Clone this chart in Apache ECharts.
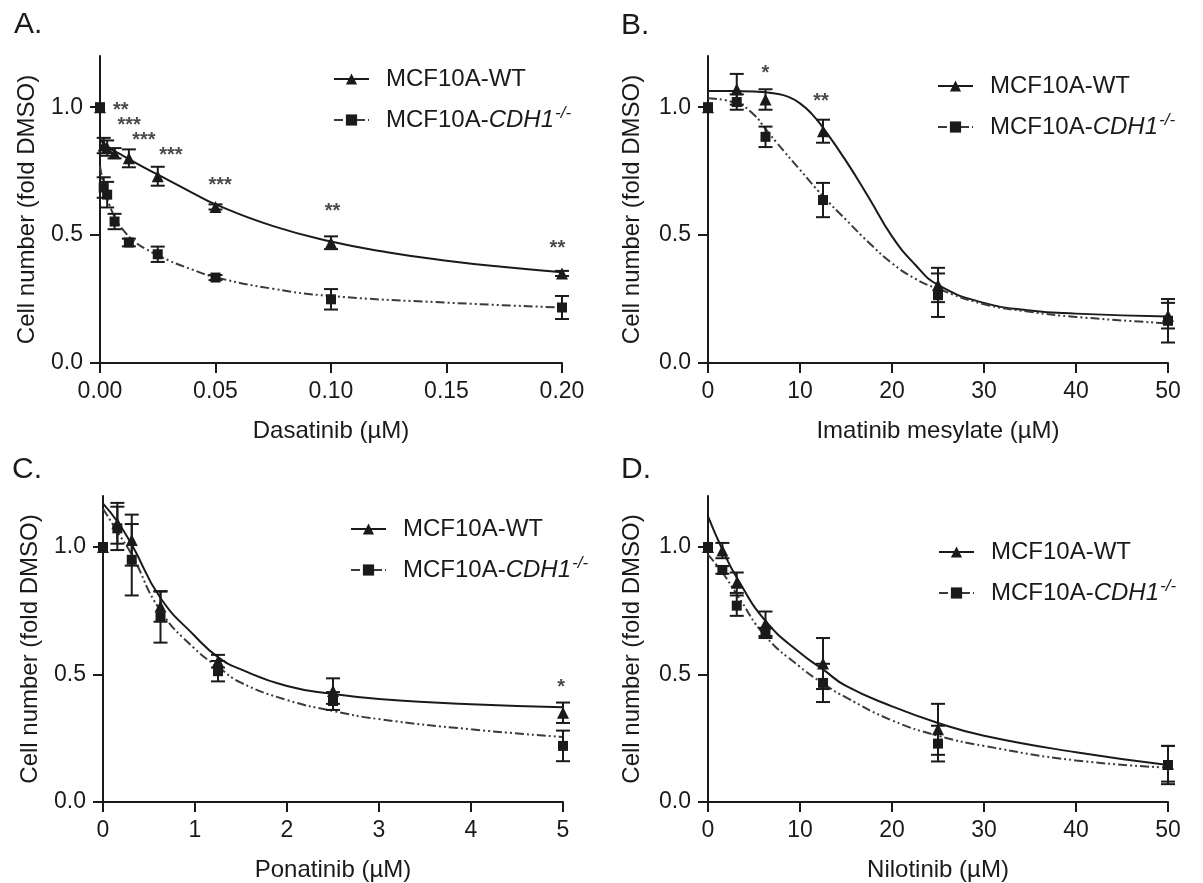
<!DOCTYPE html>
<html><head><meta charset="utf-8">
<script src="https://cdn.jsdelivr.net/npm/echarts@6/dist/echarts.min.js"></script>
<style>html,body{margin:0;padding:0;background:#fff}#c{width:1203px;height:883px}</style>
</head><body><div id="c"></div>
<script>
// ---------- Panel A: Dasatinib ----------
const doseA  = [0, 0.0016, 0.0031, 0.0063, 0.0125, 0.025, 0.05, 0.1, 0.2];
const wtA    = [1.0, 0.85, 0.84, 0.82, 0.80, 0.73, 0.61, 0.47, 0.35];
const wtAerr = [0, 0.03, 0.03, 0.02, 0.035, 0.037, 0.01, 0.025, 0.01];
const koA    = [1.0, 0.686, 0.658, 0.553, 0.471, 0.425, 0.334, 0.249, 0.217];
const koAerr = [0, 0.04, 0.05, 0.03, 0.015, 0.03, 0.01, 0.04, 0.045];
const wtFitA = [[0,0.875],[0.002,0.855],[0.005,0.835],[0.01,0.81],[0.02,0.76],[0.03,0.713],[0.04,0.665],[0.05,0.62],[0.075,0.535],[0.1,0.475],[0.125,0.432],[0.15,0.4],[0.175,0.375],[0.2,0.355]];
const koFitA = [[0,0.77],[0.001,0.72],[0.002,0.68],[0.004,0.62],[0.007,0.56],[0.01,0.52],[0.015,0.475],[0.02,0.445],[0.03,0.40],[0.04,0.365],[0.05,0.335],[0.075,0.29],[0.1,0.262],[0.15,0.236],[0.2,0.217]];
const starsA = [[0.009,1.006,'**'],[0.0126,0.948,'***'],[0.019,0.889,'***'],[0.0307,0.83,'***'],[0.052,0.713,'***'],[0.1007,0.611,'**'],[0.198,0.467,'**']];

// ---------- Panel B: Imatinib mesylate ----------
const doseB  = [0, 3.125, 6.25, 12.5, 25, 50];
const wtB    = [1.0, 1.07, 1.03, 0.906, 0.305, 0.185];
const wtBerr = [0, 0.06, 0.04, 0.045, 0.067, 0.05];
const koB    = [1.0, 1.02, 0.884, 0.637, 0.265, 0.165];
const koBerr = [0, 0.03, 0.04, 0.067, 0.085, 0.085];
const wtFitB = [[0,1.063],[2.5,1.063],[5,1.061],[7.5,1.052],[8.75,1.04],[10,1.015],[11.25,0.975],[12.5,0.92],[15,0.79],[17.5,0.645],[20,0.495],[22.5,0.385],[25,0.305],[30,0.235],[35,0.205],[40,0.193],[50,0.182]];
const koFitB = [[0,1.035],[3.125,1.015],[5,0.97],[6.25,0.915],[7.5,0.86],[10,0.755],[12.5,0.652],[15,0.56],[17.5,0.47],[20,0.39],[22.5,0.33],[25,0.29],[30,0.23],[35,0.2],[40,0.18],[50,0.155]];
const starsB = [[6.23,1.151,'*'],[12.28,1.04,'**']];

// ---------- Panel C: Ponatinib ----------
const doseC  = [0, 0.156, 0.3125, 0.625, 1.25, 2.5, 5];
const wtC    = [1.0, 1.093, 1.027, 0.767, 0.552, 0.435, 0.35];
const wtCerr = [0, 0.08, 0.1, 0.06, 0.025, 0.05, 0.04];
const koC    = [1.0, 1.073, 0.95, 0.725, 0.513, 0.396, 0.22];
const koCerr = [0, 0.085, 0.14, 0.1, 0.04, 0.035, 0.06];
const wtFitC = [[0,1.17],[0.156,1.1],[0.3125,1.01],[0.625,0.8],[1,0.65],[1.25,0.568],[1.5,0.52],[2,0.455],[2.5,0.424],[3,0.404],[4,0.383],[5,0.372]];
const koFitC = [[0,1.15],[0.156,1.06],[0.3125,0.97],[0.625,0.75],[1,0.6],[1.25,0.53],[1.5,0.468],[2,0.4],[2.5,0.357],[3,0.325],[4,0.285],[5,0.255]];
const starsC = [[4.98,0.47,'*']];

// ---------- Panel D: Nilotinib ----------
const doseD  = [0, 1.5625, 3.125, 6.25, 12.5, 25, 50];
const wtD    = [1.0, 0.986, 0.86, 0.699, 0.543, 0.285, 0.15];
const wtDerr = [0, 0.03, 0.04, 0.048, 0.1, 0.1, 0.07];
const koD    = [1.0, 0.91, 0.77, 0.663, 0.467, 0.229, 0.145];
const koDerr = [0, 0.015, 0.04, 0.02, 0.075, 0.07, 0.075];
const wtFitD = [[0,1.12],[1.5625,0.99],[3.125,0.88],[6.25,0.71],[10,0.585],[12.5,0.52],[15,0.455],[20,0.375],[25,0.31],[30,0.26],[40,0.195],[50,0.145]];
const koFitD = [[0,0.97],[1.5625,0.9],[3.125,0.815],[6.25,0.65],[10,0.53],[12.5,0.465],[15,0.41],[20,0.32],[25,0.26],[30,0.22],[40,0.163],[50,0.135]];
const starsD = [];

// ---------- Axis / text labels ----------
const panelLetters = ['A.', 'B.', 'C.', 'D.'];
const xTitles = ['Dasatinib (µM)', 'Imatinib mesylate (µM)', 'Ponatinib (µM)', 'Nilotinib (µM)'];
const yTitle = 'Cell number (fold DMSO)';
const xMax = [0.2, 50, 5, 50];
const xStep = [0.05, 10, 1, 10];
const xDecimals = [2, 0, 0, 0];
const yTicks = [0, 0.5, 1.0];
const seriesNames = ['MCF10A-WT', 'MCF10A-CDH1-/-'];

const FONT = 'Liberation Sans, Arial, Helvetica, sans-serif';
const INK = '#1a1a1a';

const grids = [
  {left: 100, top: 56, width: 462, height: 307},
  {left: 708, top: 56, width: 460, height: 307},
  {left: 103, top: 496, width: 460, height: 307},
  {left: 708, top: 496, width: 460, height: 307}
];
const yNameGap = [61, 64, 61, 64];
const legendPos = [
  {left: 328, top: 62},
  {left: 932, top: 69},
  {left: 345, top: 512},
  {left: 933, top: 535}
];
const letterPos = [[14, 27], [621, 28], [12, 472], [621, 472]];

const panels = [
  {dose: doseA, wt: wtA, wtErr: wtAerr, ko: koA, koErr: koAerr, wtFit: wtFitA, koFit: koFitA, stars: starsA},
  {dose: doseB, wt: wtB, wtErr: wtBerr, ko: koB, koErr: koBerr, wtFit: wtFitB, koFit: koFitB, stars: starsB},
  {dose: doseC, wt: wtC, wtErr: wtCerr, ko: koC, koErr: koCerr, wtFit: wtFitC, koFit: koFitC, stars: starsC},
  {dose: doseD, wt: wtD, wtErr: wtDerr, ko: koD, koErr: koDerr, wtFit: wtFitD, koFit: koFitD, stars: starsD}
];

function errRender(params, api) {
  const x = api.value(0), lo = api.value(1), hi = api.value(2);
  const t = api.coord([x, hi]), b = api.coord([x, lo]);
  const w = 7;
  const st = {stroke: INK, lineWidth: 2};
  return {type: 'group', children: [
    {type: 'line', shape: {x1: t[0], y1: t[1], x2: b[0], y2: b[1]}, style: st},
    {type: 'line', shape: {x1: t[0] - w, y1: t[1], x2: t[0] + w, y2: t[1]}, style: st},
    {type: 'line', shape: {x1: b[0] - w, y1: b[1], x2: b[0] + w, y2: b[1]}, style: st}
  ]};
}

const xAxes = [], yAxes = [], series = [], legends = [], graphics = [];
panels.forEach((p, i) => {
  xAxes.push({
    type: 'value', gridIndex: i, min: 0, max: xMax[i], interval: xStep[i],
    name: xTitles[i], nameLocation: 'middle', nameGap: 56,
    nameTextStyle: {fontSize: 24, color: INK, fontFamily: FONT},
    axisLine: {show: true, onZero: false, lineStyle: {color: INK, width: 2}},
    axisTick: {show: true, inside: false, length: 10, lineStyle: {color: INK, width: 2}},
    axisLabel: {fontSize: 23, color: INK, fontFamily: FONT, margin: 17,
      formatter: v => Number(v).toFixed(xDecimals[i])},
    splitLine: {show: false}
  });
  yAxes.push({
    type: 'value', gridIndex: i, min: 0, max: 1.2, interval: 0.5,
    name: yTitle, nameLocation: 'middle', nameGap: yNameGap[i],
    nameTextStyle: {fontSize: 24, color: INK, fontFamily: FONT},
    axisLine: {show: true, onZero: false, lineStyle: {color: INK, width: 2}},
    axisTick: {show: true, inside: false, length: 10, customValues: yTicks, lineStyle: {color: INK, width: 2}},
    axisLabel: {fontSize: 23, color: INK, fontFamily: FONT, margin: 17, customValues: yTicks,
      formatter: v => Number(v).toFixed(1)},
    splitLine: {show: false}
  });
  // fitted curves (legend carriers)
  series.push({
    name: seriesNames[0], type: 'line', xAxisIndex: i, yAxisIndex: i,
    data: p.wtFit, smooth: 0.5,
    symbol: 'triangle', symbolSize: 12, showSymbol: false,
    lineStyle: {color: INK, width: 2, type: 'solid'}, itemStyle: {color: INK},
    z: 2, silent: true
  });
  series.push({
    name: seriesNames[1], type: 'line', xAxisIndex: i, yAxisIndex: i,
    data: p.koFit, smooth: 0.5,
    symbol: 'rect', symbolSize: 10, showSymbol: false,
    lineStyle: {color: '#3a3a3a', width: 2, type: [9, 3, 2, 3, 2, 3]}, itemStyle: {color: INK},
    z: 2, silent: true
  });
  // error bars
  const wtE = [], koE = [];
  p.dose.forEach((d, k) => {
    if (p.wtErr[k] > 0) wtE.push([d, p.wt[k] - p.wtErr[k], p.wt[k] + p.wtErr[k]]);
    if (p.koErr[k] > 0) koE.push([d, p.ko[k] - p.koErr[k], p.ko[k] + p.koErr[k]]);
  });
  [wtE, koE].forEach(arr => series.push({
    type: 'custom', xAxisIndex: i, yAxisIndex: i, renderItem: errRender,
    data: arr, encode: {x: 0, y: [1, 2]}, z: 3, silent: true
  }));
  // points
  series.push({
    type: 'scatter', xAxisIndex: i, yAxisIndex: i,
    data: p.dose.map((d, k) => [d, p.wt[k]]),
    symbol: 'triangle', symbolSize: 12, itemStyle: {color: INK, opacity: 1}, z: 4, silent: true
  });
  series.push({
    type: 'scatter', xAxisIndex: i, yAxisIndex: i,
    data: p.dose.map((d, k) => [d, p.ko[k]]),
    symbol: 'rect', symbolSize: 10, itemStyle: {color: INK, opacity: 1}, z: 5, silent: true
  });
  // significance stars
  if (p.stars.length) series.push({
    type: 'scatter', xAxisIndex: i, yAxisIndex: i, data: p.stars,
    symbolSize: 1, itemStyle: {color: 'rgba(0,0,0,0)'}, z: 6, silent: true,
    label: {show: true, position: 'inside', offset: [0, 5], formatter: q => q.value[2],
      fontSize: 20, fontWeight: 'bold', color: INK, fontFamily: FONT}
  });
  legends.push({
    orient: 'vertical', left: legendPos[i].left, top: legendPos[i].top,
    data: seriesNames, itemWidth: 35, itemHeight: 14, itemGap: 14,
    selectedMode: false,
    formatter: n => n === seriesNames[0] ? '{n|MCF10A-WT}' : '{n|MCF10A-}{i|CDH1}{s|-/-}',
    textStyle: {color: INK, fontFamily: FONT, padding: [0, 0, 0, 12],
      rich: {
        n: {fontSize: 24, color: INK, fontFamily: FONT, lineHeight: 30},
        i: {fontSize: 24, color: INK, fontFamily: FONT, fontStyle: 'italic', lineHeight: 30},
        s: {fontSize: 17, color: INK, fontFamily: FONT, fontStyle: 'italic', lineHeight: 30, verticalAlign: 'top', padding: [0, 0, 8, 1]}
      }}
  });
  graphics.push({
    type: 'text', left: letterPos[i][0], top: letterPos[i][1] - 17,
    style: {text: panelLetters[i], fontSize: 30, fill: INK, fontFamily: FONT}
  });
});

const chart = echarts.init(document.getElementById('c'), null, {renderer: 'canvas'});
chart.setOption({
  animation: false,
  backgroundColor: '#fff',
  textStyle: {fontFamily: FONT},
  grid: grids,
  xAxis: xAxes,
  yAxis: yAxes,
  legend: legends,
  graphic: graphics,
  series: series
});
</script></body></html>
